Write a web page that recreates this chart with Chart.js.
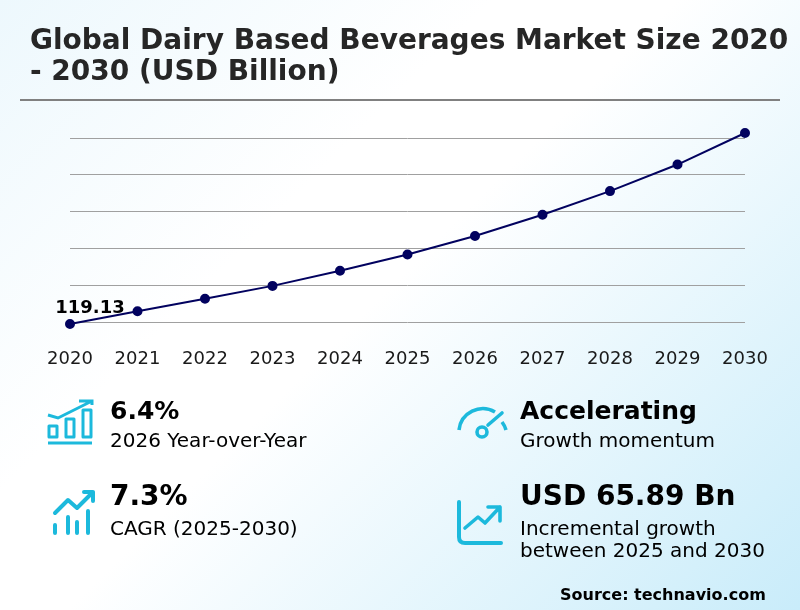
<!DOCTYPE html>
<html>
<head>
<meta charset="utf-8">
<script src="https://cdn.jsdelivr.net/npm/chart.js@4"></script>
<style>
  html, body { margin: 0; padding: 0; }
  body {
    width: 800px; height: 610px; position: relative; overflow: hidden;
    font-family: "DejaVu Sans", sans-serif; color: #000;
    background: linear-gradient(135deg, #edf8fd 0%, #ffffff 35%, #ffffff 48%, #c9ecfa 100%);
  }
  #chartWrap { position: absolute; left: 0; top: 0; width: 800px; height: 610px; }
  .title {
    position: absolute; left: 30px; top: 24px; margin: 0;
    font-size: 28px; line-height: 31px; font-weight: bold; color: #262626; white-space: nowrap;
  }
  .rule { position: absolute; left: 20px; top: 99px; width: 760px; height: 2px; background: #808080; }
  .t { position: absolute; white-space: nowrap; }
  .big { font-size: 25px; line-height: 32px; font-weight: bold; }
  .big.lg { font-size: 28px; }
  .sub { font-size: 20px; line-height: 23px; }
  .src { font-size: 16px; line-height: 20px; font-weight: bold; }
  svg { position: absolute; fill: none; stroke: #1cb9dc; stroke-linecap: round; stroke-linejoin: round; }
</style>
</head>
<body>
<div id="chartWrap"><canvas id="marketChart"></canvas></div>
<h1 class="title">Global Dairy Based Beverages Market Size 2020<br>- 2030 (USD Billion)</h1>
<div class="rule"></div>

<svg style="left:45px;top:398px" width="50" height="48" stroke-width="3">
  <path d="M3 17 L13 20 L47 3 M34 3 H47 V7" stroke-linecap="butt" stroke-linejoin="miter"/>
  <path d="M3 45 H47" stroke-linecap="butt"/>
  <path d="M4 28 H12 V39 H4 Z M21 21 H29 V39 H21 Z M38 12 H46 V39 H38 Z" stroke-linecap="butt"/>
</svg>
<div class="t big" style="left:110px;top:395px">6.4%</div>
<div class="t sub" style="left:110px;top:429px">2026 Year-over-Year</div>

<svg style="left:50px;top:488px" width="48" height="48" stroke-width="4">
  <path d="M5 25 L18 12 L27 20 L43 4 M34 4 H43 V13"/>
  <path d="M5 37 V45 M18 29 V45 M27 34 V45 M38 23 V45"/>
</svg>
<div class="t big lg" style="left:110px;top:480px">7.3%</div>
<div class="t sub" style="left:110px;top:517px">CAGR (2025-2030)</div>

<svg style="left:455px;top:402px" width="56" height="46" stroke-width="3.6">
  <path d="M4 28 A24 24 0 0 1 40 10 M47 20 A24 24 0 0 1 51 28" stroke-linecap="butt"/>
  <circle cx="27" cy="30" r="5"/>
  <path d="M33 23 L47 11"/>
</svg>
<div class="t big" style="left:520px;top:395px">Accelerating</div>
<div class="t sub" style="left:520px;top:429px">Growth momentum</div>

<svg style="left:453px;top:496px" width="52" height="54" stroke-width="4">
  <path d="M6 6 V41 Q6 47 12 47 H48"/>
  <path d="M12 32 L25 21 L32 27 L47 11 M35 11 H47 V25" stroke-width="3.6"/>
</svg>
<div class="t big lg" style="left:520px;top:480px">USD 65.89 Bn</div>
<div class="t sub" style="left:520px;top:517px">Incremental growth</div>
<div class="t sub" style="left:520px;top:539px">between 2025 and 2030</div>

<div class="t src" style="left:560px;top:585px">Source: technavio.com</div>

<script>
const years = ['2020', '2021', '2022', '2023', '2024', '2025', '2026', '2027', '2028', '2029', '2030'];
const marketSize = [119.13, 126, 132.8, 139.8, 148, 156.81, 166.85, 178.4, 191.2, 205.6, 222.7];
const firstLabel = '119.13';

// label above the first point, next to it as in the reference
const firstPointLabel = {
    id: 'firstPointLabel',
    afterDatasetsDraw(chart) {
        const pt = chart.getDatasetMeta(0).data[0];
        const ctx = chart.ctx;
        ctx.save();
        ctx.font = 'bold 18px "DejaVu Sans"';
        ctx.fillStyle = '#000';
        ctx.textAlign = 'center';
        ctx.textBaseline = 'alphabetic';
        ctx.fillText(firstLabel, pt.x + 20, pt.y - 11);
        ctx.restore();
    }
};

new Chart(document.getElementById('marketChart'), {
    type: 'line',
    data: {
        labels: years,
        datasets: [{
            data: marketSize,
            borderColor: '#02025f',
            backgroundColor: '#02025f',
            borderWidth: 2,
            pointRadius: 4,
            pointHoverRadius: 4,
            tension: 0,
            clip: false
        }]
    },
    options: {
        responsive: true,
        maintainAspectRatio: false,
        animation: false,
        layout: { padding: { left: 70, right: 55, top: 138, bottom: 222 } },
        plugins: { legend: { display: false }, tooltip: { enabled: false } },
        scales: {
            x: {
                offset: false,
                border: { display: false },
                grid: { display: false },
                ticks: { color: '#1a1a1a', font: { family: 'DejaVu Sans', size: 18 }, maxRotation: 0, autoSkip: false, padding: 18 }
            },
            y: {
                min: 120,
                max: 220,
                border: { display: false },
                grid: { color: '#a0a0a0', lineWidth: 1, drawTicks: false },
                ticks: { display: false, stepSize: 20 }
            }
        }
    },
    plugins: [firstPointLabel]
});
</script>
</body>
</html>
